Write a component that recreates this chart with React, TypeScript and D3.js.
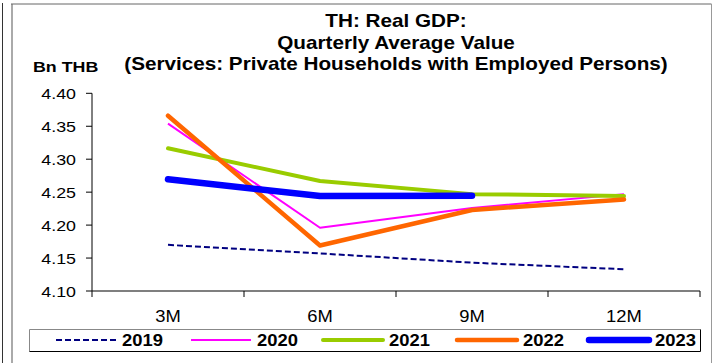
import React from "react";
import * as d3 from "d3";

const categories = ["3M", "6M", "9M", "12M"];
const series2019 = [4.170, 4.157, 4.143, 4.133];
const series2020 = [4.354, 4.196, 4.226, 4.247];
const series2021 = [4.3165, 4.267, 4.247, 4.244];
const series2022 = [4.366, 4.169, 4.223, 4.239];
const series2023 = [4.2695, 4.244, 4.2446];
const yTicks = [4.10, 4.15, 4.20, 4.25, 4.30, 4.35, 4.40];
const titleLines = ["TH: Real GDP:", "Quarterly Average Value", "(Services: Private Households with Employed Persons)"];

const seriesList = [
  { name: "2019", values: series2019, color: "#000080", width: 2, dash: "6,3", cap: "butt" },
  { name: "2020", values: series2020, color: "#FF00FF", width: 2, dash: null, cap: "butt" },
  { name: "2021", values: series2021, color: "#99CC00", width: 4, dash: null, cap: "round" },
  { name: "2022", values: series2022, color: "#FF6600", width: 4.5, dash: null, cap: "round" },
  { name: "2023", values: series2023, color: "#0000FF", width: 6.5, dash: null, cap: "round" },
];

const SX = 1.15;

function T(props: { x: number; y: number; size: number; bold?: boolean; anchor?: string; dy?: string; children: React.ReactNode }) {
  return (
    <text transform={`translate(${props.x},${props.y}) scale(${SX},1)`} fontSize={props.size}
      fontWeight={props.bold ? "bold" : "normal"} textAnchor={props.anchor ?? "start"} dy={props.dy} fill="#000">
      {props.children}
    </text>
  );
}

export default function App() {
  const W = 712, H = 363;
  const left = 92, right = 700, top = 93.3, bottom = 291;
  const x = d3.scaleBand<string>().domain(categories).range([left, right]).padding(0);
  const y = d3.scaleLinear().domain([4.10, 4.40]).range([bottom, top]);
  const cx = (c: string) => (x(c) as number) + x.bandwidth() / 2;
  const line = d3.line<number>().x((_, i) => cx(categories[i])).y((v) => y(v));
  const font = "Arial, 'Liberation Sans', sans-serif";
  const boundaries = categories.map((c) => x(c) as number).concat([right]);

  const legendX = [56, 191, 323, 457, 589];
  const legendLen = 60;

  return (
    <svg width={W} height={H} style={{ position: "absolute", left: 0, top: 0, background: "#fff" }} fontFamily={font}>
      {/* frames */}
      <line x1={2.5} y1={3} x2={2.5} y2={H} stroke="#333" strokeWidth={1} />
      <line x1={12} y1={4} x2={12} y2={H} stroke="#aaa" strokeWidth={2} />
      <line x1={11} y1={4} x2={711.5} y2={4} stroke="#666" strokeWidth={1} />
      <line x1={711.5} y1={4} x2={711.5} y2={H} stroke="#999" strokeWidth={1} />

      {/* title */}
      {titleLines.map((t, i) => (
        <T key={i} x={396} y={27 + i * 21.5} size={18} bold anchor="middle">{t}</T>
      ))}
      <T x={33} y={72} size={15.5} bold>Bn THB</T>

      {/* y axis */}
      <line x1={left} y1={top} x2={left} y2={bottom} stroke="#000" strokeWidth={1} />
      {yTicks.map((t) => (
        <g key={t}>
          <line x1={left - 6} x2={left} y1={y(t)} y2={y(t)} stroke="#000" />
          <T x={76} y={y(t)} dy="0.36em" size={15.5} anchor="end">{t.toFixed(2)}</T>
        </g>
      ))}

      {/* x axis */}
      <line x1={left} y1={bottom} x2={right} y2={bottom} stroke="#000" strokeWidth={1.2} />
      {boundaries.map((b, i) => (
        <line key={i} x1={b} x2={b} y1={bottom} y2={bottom + 6} stroke="#000" />
      ))}
      {categories.map((c) => (
        <T key={c} x={cx(c)} y={322} size={16} anchor="middle">{c}</T>
      ))}

      {/* series */}
      {seriesList.map((s) => (
        <path key={s.name} d={line(s.values) as string} fill="none" stroke={s.color} strokeWidth={s.width}
          strokeDasharray={s.dash ?? undefined} strokeLinecap={s.cap as any} strokeLinejoin="round" />
      ))}

      {/* legend */}
      <rect x={29.5} y={329.5} width={671} height={22} fill="#fff" stroke="none" />
      <line x1={29.5} y1={329.5} x2={700.5} y2={329.5} stroke="#888" />
      <line x1={29.5} y1={329.5} x2={29.5} y2={351.5} stroke="#888" />
      <line x1={29.5} y1={351.5} x2={700.5} y2={351.5} stroke="#000" />
      <line x1={700.5} y1={329.5} x2={700.5} y2={351.5} stroke="#000" />
      {seriesList.map((s, i) => (
        <g key={s.name}>
          <line x1={legendX[i]} x2={legendX[i] + legendLen} y1={340} y2={340} stroke={s.color} strokeWidth={s.width}
            strokeDasharray={s.dash ?? undefined} strokeLinecap={s.cap as any} />
          <T x={legendX[i] + legendLen + 6} y={340} dy="0.36em" size={16} bold>{s.name}</T>
        </g>
      ))}
    </svg>
  );
}
